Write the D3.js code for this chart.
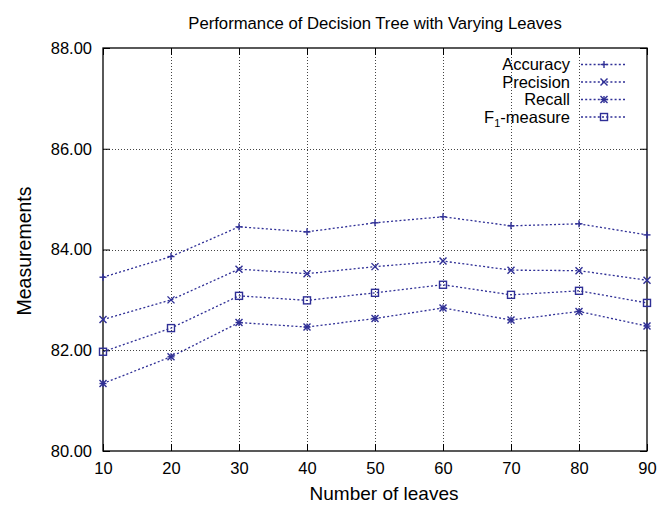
<!DOCTYPE html>
<html>
<head>
<meta charset="utf-8">
<script src="https://cdn.jsdelivr.net/npm/d3@7/dist/d3.min.js"></script>
<style>
  html, body { margin: 0; padding: 0; background: #fff; }
  svg { display: block; }
  text { font-family: "Liberation Sans", Arial, Helvetica, sans-serif; fill: #000; }
</style>
</head>
<body>
<svg id="chart" width="672" height="507"></svg>
<script>
// Number of leaves in the decision tree
const leaves = [10, 20, 30, 40, 50, 60, 70, 80, 90];

// Measurements (%) per configuration
const accuracy  = [83.45, 83.86, 84.45, 84.35, 84.53, 84.65, 84.47, 84.51, 84.29];
const precision = [82.61, 83.00, 83.61, 83.52, 83.66, 83.77, 83.59, 83.58, 83.39];
const recall    = [81.34, 81.87, 82.55, 82.46, 82.63, 82.84, 82.60, 82.77, 82.48];
const f1        = [81.97, 82.44, 83.08, 82.99, 83.14, 83.30, 83.10, 83.18, 82.94];

const seriesNames = ["Accuracy", "Precision", "Recall", "F1-measure"];
const seriesMarks = ["plus", "cross", "star", "box"];
const yTicks = [80, 82, 84, 86, 88];

const series = [accuracy, precision, recall, f1].map((vals, i) => ({
  name: seriesNames[i],
  mark: seriesMarks[i],
  points: leaves.map((x, j) => ({ x, y: vals[j] }))
}));

const color = "#2f2f96";
const svg = d3.select("#chart");
const m = { left: 103, right: 647, top: 48, bottom: 451 };

const x = d3.scaleLinear().domain([10, 90]).range([m.left, m.right]);
const y = d3.scaleLinear().domain([80, 88]).range([m.bottom, m.top]);

// Grid lines
const grid = svg.append("g").attr("stroke", "#444").attr("stroke-width", 1)
  .attr("stroke-dasharray", "1,2").attr("shape-rendering", "crispEdges");
grid.selectAll("line.v").data(leaves.slice(1, -1)).join("line")
  .attr("x1", d => Math.round(x(d)) + 0.5).attr("x2", d => Math.round(x(d)) + 0.5)
  .attr("y1", m.top).attr("y2", m.bottom);
grid.selectAll("line.h").data(yTicks.slice(1, -1)).join("line")
  .attr("y1", d => Math.round(y(d)) + 0.5).attr("y2", d => Math.round(y(d)) + 0.5)
  .attr("x1", m.left).attr("x2", m.right);

// Axes with inward ticks and mirrored ticks on the opposite sides
const tickLen = 7;
const fmtY = d3.format(".2f");
const axB = svg.append("g").attr("transform", `translate(0,${m.bottom})`)
  .call(d3.axisBottom(x).tickValues(leaves).tickSize(-tickLen).tickPadding(11).tickFormat(d3.format("d")));
const axT = svg.append("g").attr("transform", `translate(0,${m.top})`)
  .call(d3.axisTop(x).tickValues(leaves).tickSize(-tickLen).tickFormat(""));
const axL = svg.append("g").attr("transform", `translate(${m.left},0)`)
  .call(d3.axisLeft(y).tickValues(yTicks).tickSize(-tickLen).tickPadding(11).tickFormat(fmtY));
const axR = svg.append("g").attr("transform", `translate(${m.right},0)`)
  .call(d3.axisRight(y).tickValues(yTicks).tickSize(-tickLen).tickFormat(""));
[axB, axT, axL, axR].forEach(a => {
  a.select(".domain").remove();
  a.selectAll("line").attr("stroke", "#000");
  a.selectAll("text").attr("font-size", 16.5).attr("font-family", "Liberation Sans, Arial, sans-serif");
});

// Frame
svg.append("rect").attr("x", m.left).attr("y", m.top)
  .attr("width", m.right - m.left).attr("height", m.bottom - m.top)
  .attr("fill", "none").attr("stroke", "#000").attr("stroke-width", 1.3);

// Marker shapes
function drawMark(g, type, cx, cy) {
  const s = 3.5;
  if (type === "plus" || type === "star") {
    g.append("line").attr("x1", cx - s).attr("x2", cx + s).attr("y1", cy).attr("y2", cy);
    g.append("line").attr("x1", cx).attr("x2", cx).attr("y1", cy - s).attr("y2", cy + s);
  }
  if (type === "cross" || type === "star") {
    g.append("line").attr("x1", cx - s).attr("x2", cx + s).attr("y1", cy - s).attr("y2", cy + s);
    g.append("line").attr("x1", cx - s).attr("x2", cx + s).attr("y1", cy + s).attr("y2", cy - s);
  }
  if (type === "box") {
    g.append("rect").attr("x", cx - s).attr("y", cy - s).attr("width", 2 * s).attr("height", 2 * s)
      .attr("fill", "none");
  }
}

const line = d3.line().x(d => x(d.x)).y(d => y(d.y));
const plot = svg.append("g");
series.forEach(s => {
  plot.append("path").datum(s.points).attr("d", line)
    .attr("fill", "none").attr("stroke", color).attr("stroke-width", 1.3)
    .attr("stroke-dasharray", "2,2.2");
  const mg = plot.append("g").attr("stroke", color).attr("stroke-width", 1.4).attr("fill", "none");
  s.points.forEach(p => drawMark(mg, s.mark, x(p.x), y(p.y)));
});

// Legend
const legend = svg.append("g");
series.forEach((s, i) => {
  const ly = 64.5 + i * 17.5;
  const t = legend.append("text").attr("x", 570).attr("y", ly).attr("dy", "0.36em")
    .attr("text-anchor", "end").attr("font-size", 16.5);
  if (s.name === "F1-measure") {
    t.append("tspan").text("F");
    t.append("tspan").attr("font-size", 11).attr("dy", "0.35em").text("1");
    t.append("tspan").attr("dy", "-0.24em").text("-measure");
  } else {
    t.text(s.name);
  }
  legend.append("line").attr("x1", 581).attr("x2", 626).attr("y1", ly).attr("y2", ly)
    .attr("stroke", color).attr("stroke-width", 1.3).attr("stroke-dasharray", "2,2.2");
  const mg = legend.append("g").attr("stroke", color).attr("stroke-width", 1.4).attr("fill", "none");
  drawMark(mg, s.mark, 604, ly);
});

// Titles
svg.append("text").attr("x", 375).attr("y", 22.5).attr("dy", "0.36em").attr("text-anchor", "middle")
  .attr("font-size", 16.7).text("Performance of Decision Tree with Varying Leaves");
svg.append("text").attr("x", 384).attr("y", 493).attr("dy", "0.36em").attr("text-anchor", "middle")
  .attr("font-size", 19).text("Number of leaves");
svg.append("text").attr("transform", "translate(24,251) rotate(-90)").attr("dy", "0.36em")
  .attr("text-anchor", "middle").attr("font-size", 19.5).text("Measurements");
</script>
</body>
</html>
